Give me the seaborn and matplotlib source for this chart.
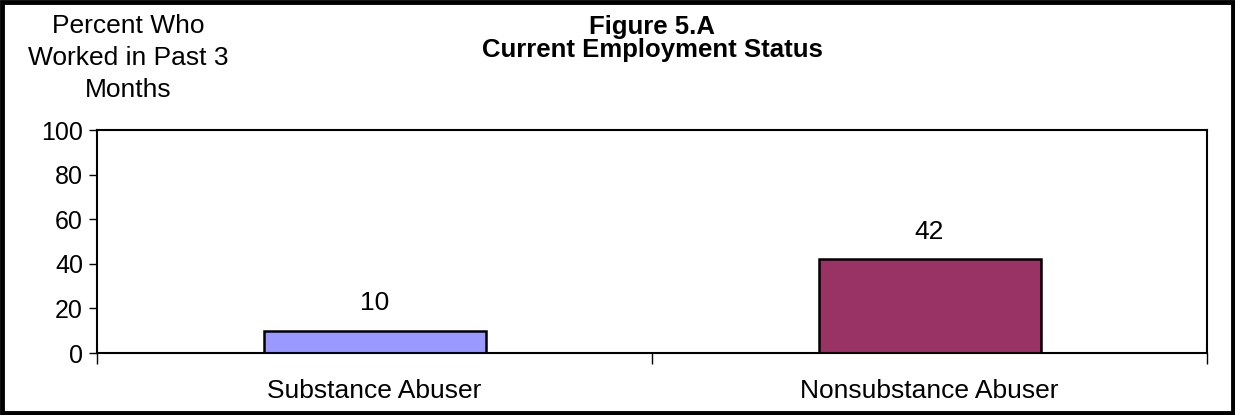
import matplotlib
matplotlib.use('Agg')
import matplotlib.pyplot as plt
import seaborn as sns
import pandas as pd
from matplotlib.patches import Rectangle

# Chart data
groups = ['Substance Abuser', 'Nonsubstance Abuser']
percent_worked = [10, 42]
bar_colors = ['#9999FF', '#993366']
y_ticks = [0, 20, 40, 60, 80, 100]

df = pd.DataFrame({'group': groups, 'percent': percent_worked})

sns.set_style('white')
plt.rcParams['font.family'] = ['Liberation Sans', 'DejaVu Sans']
plt.rcParams['text.color'] = 'black'
plt.rcParams['xtick.color'] = 'black'
plt.rcParams['ytick.color'] = 'black'

fig = plt.figure(figsize=(12.35, 4.15), dpi=100)
W, H = 1235, 415
ax = fig.add_axes([97 / W, 1 - 353 / H, 1110 / W, 223 / H])

sns.barplot(data=df, x='group', y='percent', hue='group', palette=bar_colors,
            saturation=1, width=0.4, edgecolor='black', linewidth=1.8,
            legend=False, ax=ax)

ax.set_xlim(-0.5, 1.5)
ax.set_ylim(0, 100)
ax.set_yticks(y_ticks)
ax.tick_params(axis='y', labelsize=18, length=6, width=1, direction='out', left=True, pad=4)
ax.tick_params(axis='x', which='major', length=0, labelsize=19, pad=19)
ax.set_xticks([-0.5, 0.5, 1.5], minor=True)
ax.tick_params(axis='x', which='minor', length=8, width=1, bottom=True, direction='out')
ax.set_xlabel('')
ax.set_ylabel('')
for side in ax.spines.values():
    side.set_visible(True)
    side.set_color('black')
    side.set_linewidth(1.5)

for i, v in enumerate(percent_worked):
    ax.annotate(str(v), (i, v), xytext=(0, 11), textcoords='offset points',
                ha='center', va='bottom', fontsize=19)

fig.text(652 / W, 1 - 34 / H, 'Figure 5.A', ha='center', va='baseline',
         fontsize=18.5, fontweight='bold')
fig.text(652 / W, 1 - 57 / H, 'Current Employment Status', ha='center', va='baseline',
         fontsize=18.5, fontweight='bold')
fig.text(128 / W, 1 - 58 / H, 'Percent Who\nWorked in Past 3\nMonths', ha='center',
         va='center', fontsize=19, linespacing=1.42)

# outer chart border
fig.patches.append(Rectangle((0.002, 0.004), 0.996, 0.992, transform=fig.transFigure,
                             fill=False, edgecolor='black', linewidth=3.5))

fig.savefig('out.png', dpi=100)
